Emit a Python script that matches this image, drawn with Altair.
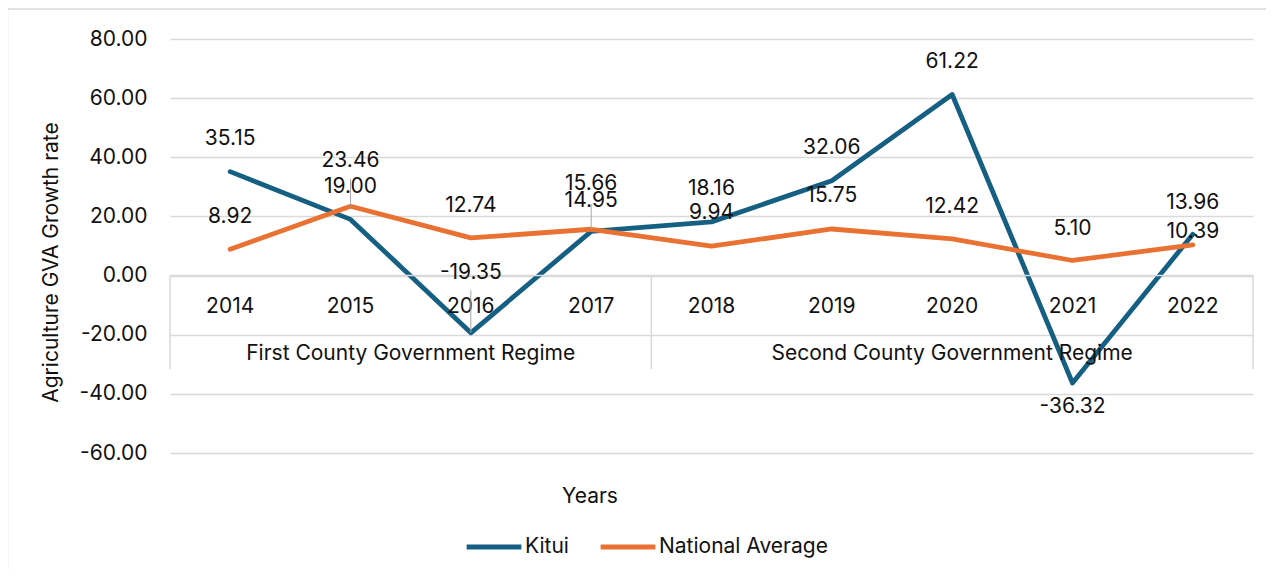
import altair as alt
import pandas as pd

# ---- data ----
years = ["2014", "2015", "2016", "2017", "2018", "2019", "2020", "2021", "2022"]
kitui = [35.15, 19.00, -19.35, 14.95, 18.16, 32.06, 61.22, -36.32, 13.96]
national = [8.92, 23.46, 12.74, 15.66, 9.94, 15.75, 12.42, 5.10, 10.39]
# where each data label sits (in data units)
kitui_label_y = [46.2, 30.1, 0.85, 25.2, 29.3, 43.2, 72.3, -44.5, 24.7]
national_label_y = [19.9, 38.8, 23.5, 31.1, 21.3, 26.9, 23.3, 15.6, 14.7]
# leader lines: year index, from (label), to (point)
leader_idx = [1, 2, 3]
leader_from = [32.7, -5.0, 24.2]
leader_to = [23.46, -19.35, 15.66]
# regime groups on the two-level category axis
regimes = ["First County Government Regime", "Second County Government Regime"]
regime_center = [1.5, 6.0]
regime_bounds = [-0.5, 3.5, 8.5]
series_names = ["Kitui", "National Average"]
series_colors = ["#156082", "#E97132"]
y_ticks = [-60, -40, -20, 0, 20, 40, 60, 80]

FONT = "Inter"
FS = 21
TXT = "#111111"
GRID = "#d9d9d9"

idx = list(range(len(years)))
lines_df = pd.DataFrame(
    {"idx": idx * 2,
     "value": kitui + national,
     "series": [series_names[0]] * 9 + [series_names[1]] * 9}
)
labels_df = pd.DataFrame(
    {"idx": idx * 2,
     "value": kitui_label_y + national_label_y,
     "txt": [f"{v:.2f}" for v in kitui + national]}
)
years_df = pd.DataFrame({"idx": idx, "year": years, "value": [-10.5] * 9})
regime_df = pd.DataFrame({"idx": regime_center, "name": regimes, "value": [-26.5, -26.5]})
bounds_df = pd.DataFrame({"idx": regime_bounds, "value": [0] * 3, "v1": [-31.6] * 3})
axisline_df = pd.DataFrame({"idx": [regime_bounds[0]], "x1": [regime_bounds[-1]], "value": [0]})
leader_df = pd.DataFrame({"idx": leader_idx, "value": leader_from, "v1": leader_to})

xs = alt.Scale(domain=[-0.5, 8.5], nice=False, zero=False)
ys = alt.Scale(domain=[-60, 80], nice=False)

yaxis = alt.Axis(
    values=y_ticks,
    labelExpr="replace(format(datum.value, '.2f'), '\u2212', '-')",
    title="Agriculture GVA Growth rate", titleFontSize=FS, titleFont=FONT,
    titleFontWeight="normal", titleColor=TXT, titleX=-119, titleY=223,
    titleAngle=270, titleBaseline="middle", titleAlign="center",
    labelFontSize=FS, labelFont=FONT, labelColor=TXT, labelPadding=23,
    domain=False, ticks=False, gridColor=GRID, gridWidth=1.5,
)
X = alt.X("idx:Q", scale=xs, axis=None)
Y = alt.Y("value:Q", scale=ys, axis=yaxis)

lines = alt.Chart(lines_df).mark_line(strokeWidth=4.8, strokeCap="round", strokeJoin="round").encode(
    x=X, y=Y,
    color=alt.Color(
        "series:N",
        scale=alt.Scale(domain=series_names, range=series_colors),
        legend=alt.Legend(
            title=None, orient="none", direction="horizontal",
            legendX=294, legendY=478,
            symbolType="stroke", symbolSize=3000, symbolStrokeWidth=4.8,
            labelFontSize=FS, labelFont=FONT, labelColor=TXT, labelLimit=400,
            labelOffset=1, columnPadding=22, symbolOffset=0,
        ),
    ),
)

axis_line = alt.Chart(axisline_df).mark_rule(color=GRID, strokeWidth=1.5).encode(
    x=X, x2="x1:Q", y=Y,
)
bounds = alt.Chart(bounds_df).mark_rule(color=GRID, strokeWidth=1.5).encode(
    x=X, y=Y, y2="v1:Q",
)
leaders = alt.Chart(leader_df).mark_rule(color="#a6a6a6", strokeWidth=1).encode(
    x=X, y=Y, y2="v1:Q",
)
year_text = alt.Chart(years_df).mark_text(fontSize=FS, font=FONT, color=TXT, baseline="middle").encode(
    x=X, y=Y, text="year:N",
)
regime_text = alt.Chart(regime_df).mark_text(fontSize=FS, font=FONT, color=TXT, baseline="middle").encode(
    x=X, y=Y, text="name:N",
)
data_labels = alt.Chart(labels_df).mark_text(fontSize=FS, font=FONT, color=TXT, baseline="middle").encode(
    x=X, y=Y, text="txt:N",
)
x_title = alt.Chart(pd.DataFrame({"t": ["Years"]})).mark_text(
    fontSize=FS, font=FONT, color=TXT, baseline="middle"
).encode(x=alt.value(420), y=alt.value(458), text="t:N")

border = alt.Chart(pd.DataFrame({"a": [0]})).mark_rect(
    fill=None, stroke=GRID, strokeWidth=1.5
).encode(x=alt.value(-162.5), x2=alt.value(1120), y=alt.value(-30), y2=alt.value(600))

chart = alt.layer(
    border, lines, axis_line, bounds, year_text, regime_text, leaders, data_labels, x_title
).properties(
    width=1083, height=414,
    autosize=alt.AutoSizeParams(type="none"),
    padding={"left": 162, "top": 31, "right": 13, "bottom": 117},
).configure_view(stroke=None)

chart.save("out.html", embed_options={"renderer": "svg", "actions": False})
